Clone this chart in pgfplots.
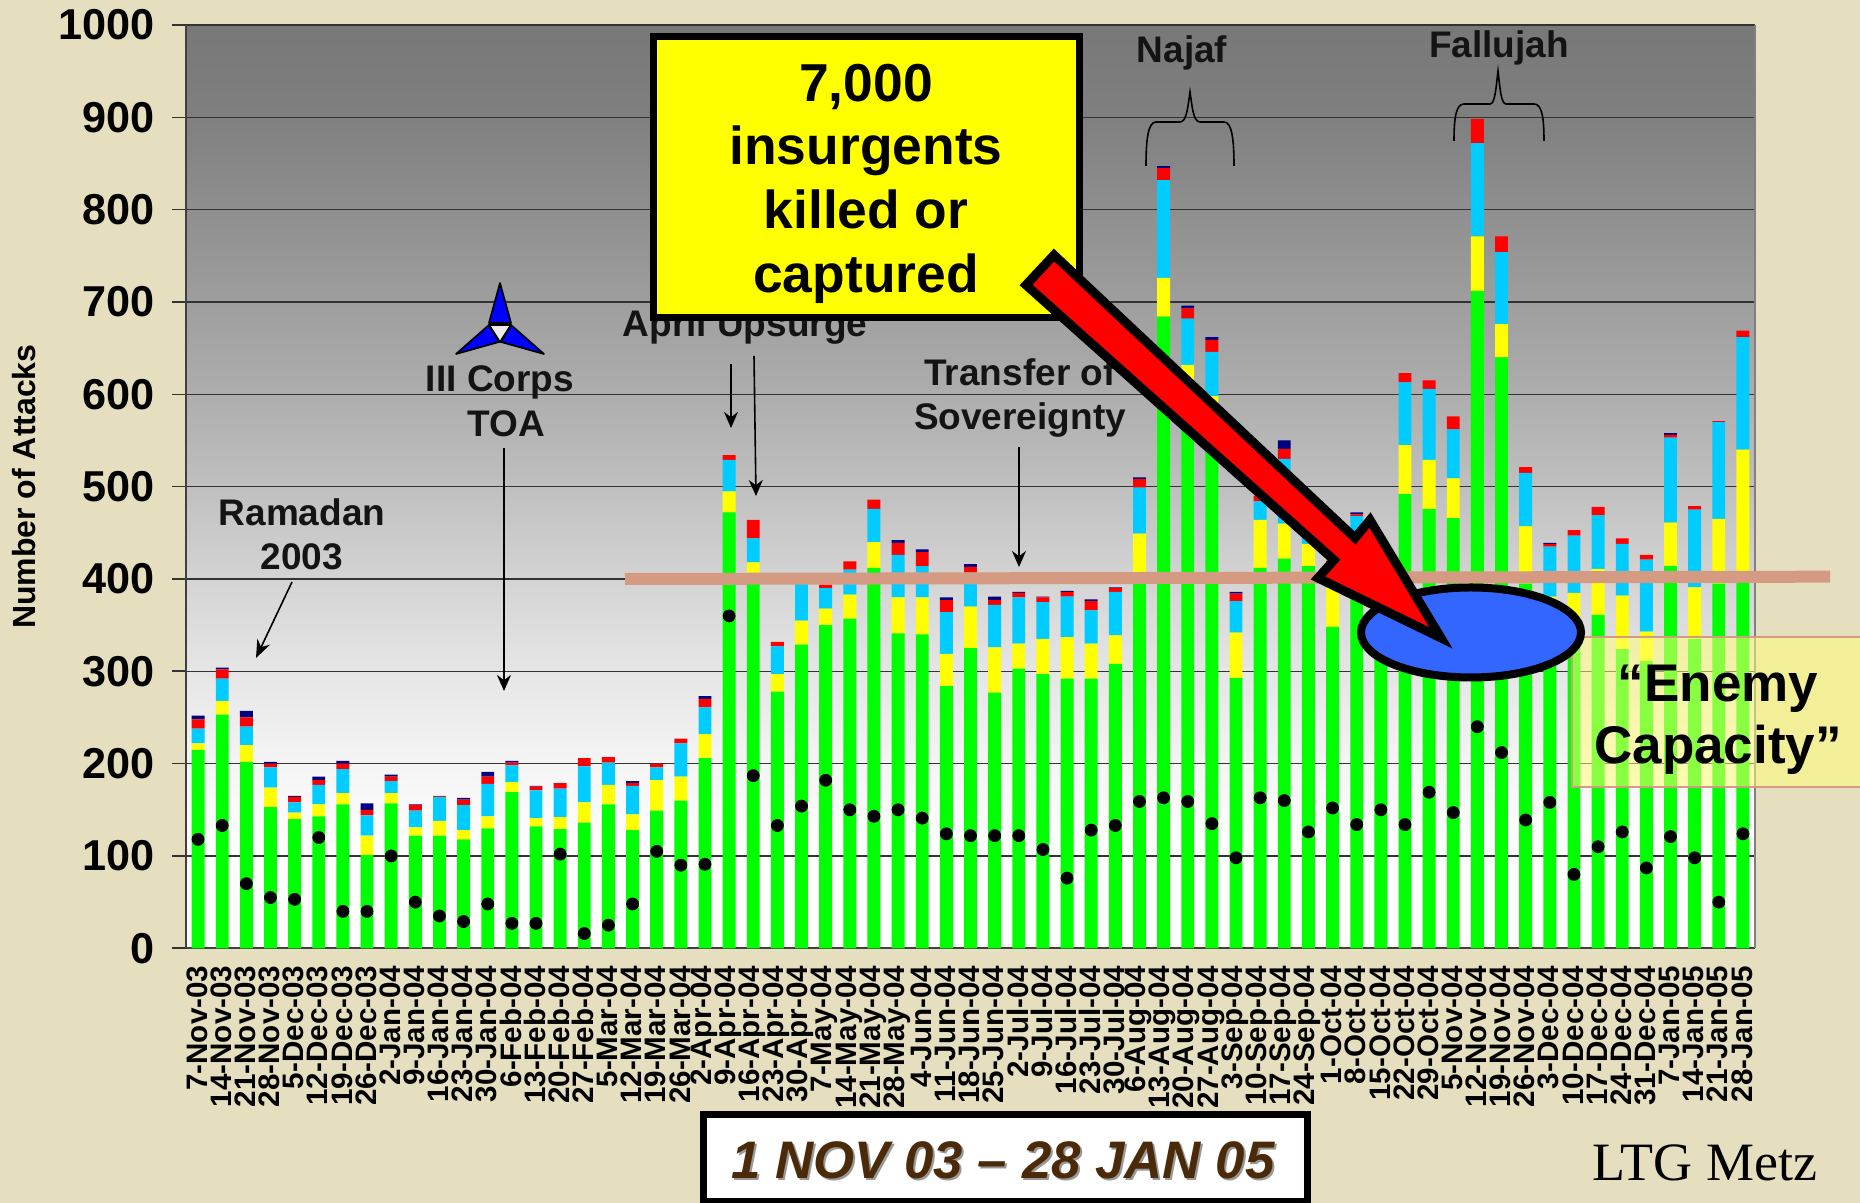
\documentclass[border=0pt]{standalone}
\usepackage{pgfplots}
\usepackage{pgfplotstable}
\usepackage{fontspec}
\pgfplotsset{compat=1.18}
\usetikzlibrary{arrows.meta}
\setmainfont{Liberation Sans}
\newfontfamily\timesf{Liberation Serif}
\definecolor{bgtan}{HTML}{E5DEBF}
\definecolor{tanband}{HTML}{D59B82}
\definecolor{bargreen}{rgb}{0,1,0}
\definecolor{baryellow}{rgb}{1,1,0}
\definecolor{barred}{rgb}{1,0,0}
\definecolor{pureblue}{rgb}{0,0,1}
\definecolor{barblue}{HTML}{00CCFF}
\definecolor{navybar}{HTML}{000080}
\definecolor{ellblue}{HTML}{3366FF}
\definecolor{datebrown}{HTML}{4A2A08}
\pgfdeclareverticalshading{plotbg}{100bp}{rgb(0bp)=(1,1,1); rgb(25bp)=(1,1,1); rgb(30bp)=(1,1,1); rgb(35bp)=(.96,.96,.96); rgb(40bp)=(.90,.90,.90); rgb(45bp)=(.83,.83,.83); rgb(50bp)=(.75,.75,.75); rgb(55bp)=(.68,.68,.68); rgb(60bp)=(.62,.62,.62); rgb(65bp)=(.56,.56,.56); rgb(70bp)=(.50,.50,.50); rgb(75bp)=(.47,.47,.47); rgb(100bp)=(.47,.47,.47)}
\pgfplotstableread{
x g y b r n d
0 215 7 16 10 4 118
1 253 15 24 10 2 133
2 202 18 20 10 7 70
3 153 21 22 4 2 55
4 140 7 11 6 1 53
5 143 13 21 5 4 120
6 156 12 26 6 3 40
7 101 21 22 6 7 40
8 157 11 13 5 2 100
9 122 9 18 6 1 50
10 122 16 26 1 0 35
11 118 10 27 6 2 29
12 130 13 35 8 5 48
13 169 11 18 3 2 27
14 132 9 30 4 1 27
15 129 13 31 6 0 102
16 136 22 39 9 0 16
17 156 21 24 6 0 25
18 128 17 31 3 2 48
19 149 33 14 4 0 105
20 160 26 36 5 0 90
21 206 26 29 9 3 91
22 472 23 34 5 0 360
23 405 13 26 20 0 187
24 278 19 30 5 0 133
25 329 26 40 4 0 154
26 350 18 22 4 0 182
27 357 26 27 9 0 150
28 412 28 36 10 0 143
29 341 39 46 13 3 150
30 340 40 34 15 3 141
31 284 35 45 13 3 124
32 325 45 37 6 3 122
33 277 49 46 5 4 122
34 303 27 50 5 1 122
35 297 38 40 5 1 107
36 292 45 44 5 1 76
37 292 38 36 10 2 128
38 308 31 47 4 1 133
39 398 51 50 9 2 159
40 684 42 106 13 2 163
41 590 42 50 11 3 159
42 540 58 48 13 3 135
43 293 49 34 8 2 98
44 412 52 20 6 0 163
45 422 38 70 11 9 160
46 414 24 20 6 0 126
47 348 44 18 10 0 152
48 395 35 38 2 2 134
49 330 50 45 10 0 150
50 492 53 68 10 0 134
51 476 53 77 9 0 169
52 466 43 53 14 0 147
53 712 59 101 26 0 240
54 640 36 78 17 0 212
55 395 62 58 6 0 139
56 340 41 54 3 1 158
57 336 49 62 6 0 80
58 361 50 58 9 0 110
59 324 58 56 6 0 126
60 311 32 78 5 0 87
61 414 47 92 3 2 121
62 335 56 84 4 0 98
63 395 70 105 1 0 50
64 400 140 122 7 0 124
}\attacks
\begin{document}
\begin{tikzpicture}
\clip (0,0) rectangle (930pt,601.5pt);
\fill[bgtan] (0,0) rectangle (930pt,601.5pt);
\begin{axis}[
  at={(93pt,127.35pt)}, anchor=south west,
  scale only axis, width=784.5pt, height=461.65pt,
  ybar stacked, bar width=6.45pt,
  xmin=-0.5, xmax=64.5, ymin=0, ymax=1000,
  axis background/.style={shading=plotbg},
  axis line style={black!75, line width=0.9pt},
  axis x line*=bottom, axis y line*=left,
  ytick={0,100,...,1000},
  ymajorgrids, grid style={black!80, line width=0.6pt},
  y tick style={black!80, line width=0.8pt},
  yticklabel style={font=\fontsize{21.6}{24}\bfseries\selectfont, /pgf/number format/assume math mode=true, /pgf/number format/1000 sep={}, xshift=-5pt},
  ylabel={\fontsize{16}{18}\bfseries\selectfont Number of Attacks},
  ylabel style={at={(axis description cs:0,0.5)}, anchor=center, xshift=0pt, yshift=81pt},
  tick align=outside,
  major tick length=7pt,
  xtick={0,...,64},
  x tick style={draw=none},
  minor xtick={-0.5,0.5,...,64.5},
  minor x tick style={black!80, line width=0.6pt},
  minor tick length=4.5pt,
  xticklabels={7-Nov-03,14-Nov-03,21-Nov-03,28-Nov-03,5-Dec-03,12-Dec-03,19-Dec-03,26-Dec-03,2-Jan-04,9-Jan-04,16-Jan-04,23-Jan-04,30-Jan-04,6-Feb-04,13-Feb-04,20-Feb-04,27-Feb-04,5-Mar-04,12-Mar-04,19-Mar-04,26-Mar-04,2-Apr-04,9-Apr-04,16-Apr-04,23-Apr-04,30-Apr-04,7-May-04,14-May-04,21-May-04,28-May-04,4-Jun-04,11-Jun-04,18-Jun-04,25-Jun-04,2-Jul-04,9-Jul-04,16-Jul-04,23-Jul-04,30-Jul-04,6-Aug-04,13-Aug-04,20-Aug-04,27-Aug-04,3-Sep-04,10-Sep-04,17-Sep-04,24-Sep-04,1-Oct-04,8-Oct-04,15-Oct-04,22-Oct-04,29-Oct-04,5-Nov-04,12-Nov-04,19-Nov-04,26-Nov-04,3-Dec-04,10-Dec-04,17-Dec-04,24-Dec-04,31-Dec-04,7-Jan-05,14-Jan-05,21-Jan-05,28-Jan-05},
  xticklabel style={rotate=90, anchor=east, font=\fontsize{14.8}{14.8}\bfseries\selectfont, inner xsep=0pt, inner ysep=0pt, xshift=-1.5pt, yshift=0.5pt},
  clip=false,
]
\addplot[ybar, fill=bargreen, draw=none] table[x=x,y=g] {\attacks};
\addplot[ybar, fill=baryellow, draw=none] table[x=x,y=y] {\attacks};
\addplot[ybar, fill=barblue, draw=none] table[x=x,y=b] {\attacks};
\addplot[ybar, fill=barred, draw=none] table[x=x,y=r] {\attacks};
\addplot[ybar, fill=navybar, draw=none] table[x=x,y=n] {\attacks};
\end{axis}
\begin{axis}[
  at={(93pt,127.35pt)}, anchor=south west,
  scale only axis, width=784.5pt, height=461.65pt,
  xmin=-0.5, xmax=64.5, ymin=0, ymax=1000,
  hide axis, clip=false,
]
\addplot[only marks, mark=*, mark size=3pt, mark options={fill=black, draw=black}] table[x=x,y=d] {\attacks};
\end{axis}
\begin{scope}[x=0.5pt,y=-0.5pt,shift={(0pt,601.5pt)}, every node/.style={align=center, font=\fontsize{18.5}{22}\bfseries\selectfont, text=black!92}]
 \draw[black!50, line width=1.1pt] (1755,25) -- (1755,948);
 % annotations
 \node at (302,512) {Ramadan};
 \node at (302,556.5) {2003};
 \draw[-{Stealth[length=9pt,width=7pt]}, line width=0.8pt] (292,582) -- (256,658);
 \node at (500,382) {III Corps};
 \node at (506,424) {TOA};
 \draw[-{Stealth[length=8pt,width=7pt]}, line width=0.8pt] (504,448) -- (504,691);
 % emblem
 \draw[line width=0.85pt, fill=black!8, line join=round] (489,325) -- (511,325) -- (500,342) -- cycle;
 \draw[line width=0.85pt, fill=pureblue, line join=round] (500,283) -- (489,323) -- (511,323) -- cycle;
 \draw[line width=0.85pt, fill=pureblue, line join=round] (456,354) -- (489,325) -- (499,342) -- cycle;
 \draw[line width=0.85pt, fill=pureblue, line join=round] (544,354) -- (511,325) -- (501,342) -- cycle;
 \node at (745,327) {April Upsurge};
 \draw[-{Stealth[length=8pt,width=7pt]}, line width=0.8pt] (731,364) -- (731,428);
 \draw[-{Stealth[length=8pt,width=7pt]}, line width=0.8pt] (754,356) -- (756,496);
 \node at (1020,372) {Transfer of};
 \node at (1020,420) {Sovereignty};
 \draw[-{Stealth[length=8pt,width=7pt]}, line width=0.8pt] (1019,447) -- (1019,567);
 \node at (1182,52.5) {Najaf};
 \node at (1499,47.5) {Fallujah};
 \draw[line width=0.8pt] (1146,166) .. controls (1146,140) and (1148,122) .. (1156,122) -- (1180,122) .. controls (1187,122) and (1188,105) .. (1190,92) .. controls (1192,105) and (1193,122) .. (1200,122) -- (1224,122) .. controls (1232,122) and (1234,140) .. (1234,166);
 \draw[line width=0.8pt] (1454,141) .. controls (1454,118) and (1456,104) .. (1464,104) -- (1490,104) .. controls (1495,104) and (1496,88) .. (1498,71) .. controls (1500,88) and (1501,104) .. (1506,104) -- (1534,104) .. controls (1542,104) and (1544,118) .. (1544,141);
 % band
 \draw[tanband, line width=6pt] (625,579) -- (1830,576.7);
 % yellow box
 \draw[line width=3.5pt, fill=baryellow] (653,37) rectangle (1079,318);
 \foreach \t/\yy in {{7,000}/102,insurgents/165,{killed or}/229,captured/293}
   \node[anchor=base, font=\fontsize{26.7}{30}\bfseries\selectfont, text=black] at (866,\yy) {\t};
 % enemy capacity
 \fill[baryellow, opacity=0.38] (1572,637) rectangle (1870,787);
 \fill[white, opacity=0.25] (1572,637) rectangle (1870,787);
 \draw[tanband, line width=1pt] (1870,637) -- (1572,637) -- (1572,787) -- (1870,787);
 \node[font=\fontsize{26.5}{31}\bfseries\selectfont, text=black] at (1718,688.5) {“Enemy};
 \node[font=\fontsize{26.5}{31}\bfseries\selectfont, text=black] at (1718,750) {Capacity”};
 % ellipse and arrow
 \draw[line width=4pt, fill=ellblue] (1471,632.5) ellipse [x radius=110, y radius=45];
 \draw[line width=4.5pt, fill=barred, line join=miter, miter limit=10] (1054,255) -- (1355,538) -- (1370,520) -- (1441,638) -- (1318,578) -- (1334,560) -- (1026,285) -- cycle;
 % date box
 \draw[line width=3.5pt, fill=white] (703,1115) rectangle (1307,1202);
 \node[font=\fontsize{26.4}{30}\bfseries\itshape\selectfont, text=black!40] at (1005,1162) {1 NOV 03 – 28 JAN 05};
 \node[font=\fontsize{26.4}{30}\bfseries\itshape\selectfont, text=datebrown] at (1003,1160) {1 NOV 03 – 28 JAN 05};
 \node[font=\fontsize{27}{30}\timesf\selectfont, text=black] at (1705,1163) {LTG Metz};
\end{scope}
\end{tikzpicture}
\end{document}
